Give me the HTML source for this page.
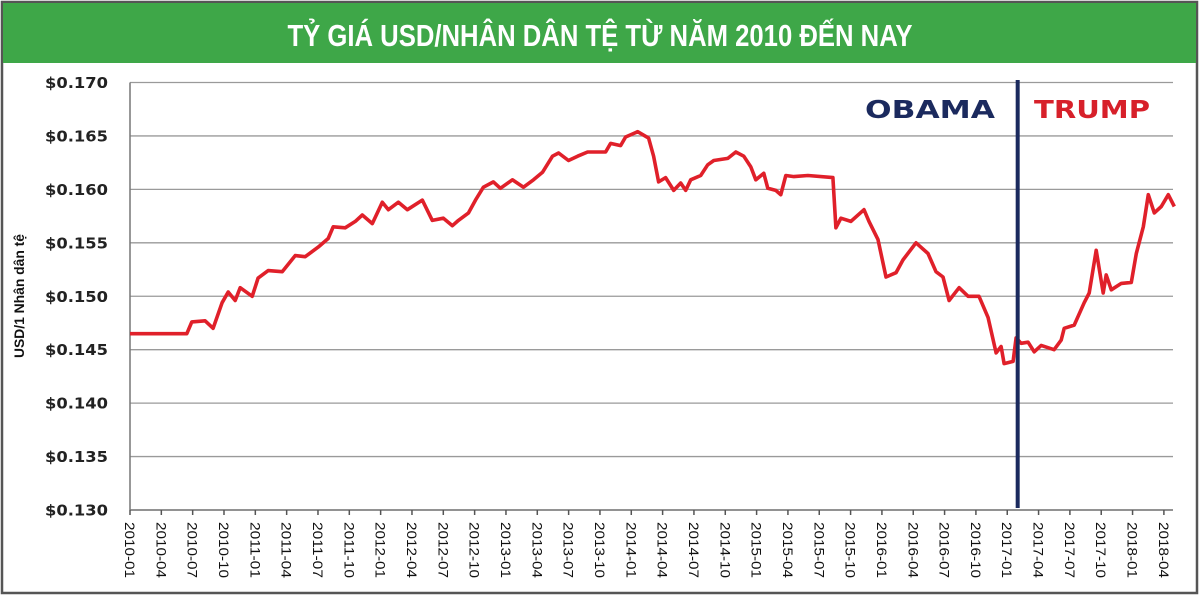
<!DOCTYPE html>
<html><head><meta charset="utf-8"><style>
html,body{margin:0;padding:0;background:#fff;}
svg{display:block;}
</style></head><body>
<svg id="chart" width="1200" height="596" viewBox="0 0 1200 596" xmlns="http://www.w3.org/2000/svg">
<rect x="2" y="2" width="1195" height="591" fill="#fff" stroke="#555" stroke-width="2.5"/>
<rect x="3" y="3" width="1193" height="60" fill="#3ea748"/>
<text x="600" y="46" text-anchor="middle" fill="#fff" font-family="'Liberation Sans Narrow','Liberation Sans',sans-serif" font-weight="bold" font-size="31" textLength="625" lengthAdjust="spacingAndGlyphs">TỶ GIÁ USD/NHÂN DÂN TỆ TỪ NĂM 2010 ĐẾN NAY</text>
<g id="grid"></g>
<g id="yticks"></g>
<g id="xticks"></g>
<text transform="translate(24,296) rotate(-90)" text-anchor="middle" font-family="'Liberation Sans Narrow','Liberation Sans',sans-serif" font-weight="bold" font-size="14" fill="#111" textLength="124" lengthAdjust="spacingAndGlyphs">USD/1 Nhân dân tệ</text>
<g id="series"></g>
<text x="865" y="118" fill="#1b2a5e" font-family="'DejaVu Sans',sans-serif" font-weight="bold" font-size="25" textLength="130" lengthAdjust="spacingAndGlyphs">OBAMA</text>
<text x="1034" y="118" fill="#d7202a" font-family="'DejaVu Sans',sans-serif" font-weight="bold" font-size="25" textLength="116" lengthAdjust="spacingAndGlyphs">TRUMP</text>
</svg>
<script>
const tickLabels = ["2010-01","2010-04","2010-07","2010-10","2011-01","2011-04","2011-07","2011-10","2012-01","2012-04","2012-07","2012-10","2013-01","2013-04","2013-07","2013-10","2014-01","2014-04","2014-07","2014-10","2015-01","2015-04","2015-07","2015-10","2016-01","2016-04","2016-07","2016-10","2017-01","2017-04","2017-07","2017-10","2018-01","2018-04"];
const yTickValues = [0.130,0.135,0.140,0.145,0.150,0.155,0.160,0.165,0.170];
const monthOffsets = [0,5.44,5.92,7.19,7.96,8.82,9.40,10.07,10.55,11.70,12.27,13.23,14.57,15.82,16.78,18.02,18.98,19.46,20.61,21.57,22.24,23.20,24.16,24.74,25.70,26.56,27.99,28.95,30.01,30.87,31.45,32.41,33.08,33.84,34.80,35.47,36.62,37.68,38.64,39.50,40.46,41.04,41.99,42.86,43.82,45.54,46.02,46.98,47.46,48.61,49.66,50.14,50.62,51.29,52.06,52.73,53.21,53.69,54.65,55.32,55.90,57.24,58.01,58.77,59.44,59.92,60.69,61.07,61.84,62.32,62.80,63.57,64.91,67.31,67.59,68.07,69.03,70.28,70.76,71.62,72.39,73.35,74.02,75.26,76.41,77.18,77.85,78.43,79.39,80.25,81.30,82.17,82.93,83.41,83.70,84.56,84.85,85.33,86.00,86.58,87.25,88.49,89.17,89.45,90.41,91.37,91.85,92.52,93.19,93.48,93.96,94.92,95.88,96.36,97.03,97.51,98.08,98.75,99.42,100.0];
const rateValues = [0.1465,0.1465,0.1476,0.1477,0.1470,0.1494,0.1504,0.1496,0.1508,0.1500,0.1517,0.1524,0.1523,0.1538,0.1537,0.1546,0.1554,0.1565,0.1564,0.1570,0.1576,0.1568,0.1588,0.1581,0.1588,0.1581,0.1590,0.1571,0.1573,0.1566,0.1571,0.1578,0.1590,0.1602,0.1607,0.1601,0.1609,0.1602,0.1609,0.1616,0.1631,0.1634,0.1627,0.1631,0.1635,0.1635,0.1643,0.1641,0.1649,0.1654,0.1648,0.1631,0.1607,0.1611,0.1599,0.1606,0.1599,0.1609,0.1613,0.1623,0.1627,0.1629,0.1635,0.1631,0.1621,0.1609,0.1615,0.1601,0.1599,0.1595,0.1613,0.1612,0.1613,0.1611,0.1564,0.1573,0.1570,0.1581,0.1570,0.1553,0.1518,0.1522,0.1534,0.1550,0.1540,0.1523,0.1518,0.1496,0.1508,0.1500,0.1500,0.1480,0.1447,0.1453,0.1437,0.1439,0.1461,0.1456,0.1457,0.1448,0.1454,0.1450,0.1459,0.1470,0.1473,0.1494,0.1503,0.1543,0.1503,0.1520,0.1506,0.1512,0.1513,0.1540,0.1565,0.1595,0.1578,0.1584,0.1595,0.1584];
const dividerMonth = 85.0;

const NS = "http://www.w3.org/2000/svg";
const X0 = 130, PX_PER_MONTH = 31.33/3, Y0 = 510, Y1 = 82.5, VMIN = 0.130, VMAX = 0.170, XR = 1173;
function xScale(m){ return X0 + m*PX_PER_MONTH; }
function yScale(v){ return Y0 - (v-VMIN)/(VMAX-VMIN)*(Y0-Y1); }
function mk(tag, attrs, parent){ const e=document.createElementNS(NS,tag); for(const k in attrs) e.setAttribute(k,attrs[k]); parent.appendChild(e); return e; }

const grid = document.getElementById('grid');
const yt = document.getElementById('yticks');
yTickValues.forEach(v=>{
  const y = yScale(v);
  const gl = mk('line',{x1:X0,x2:XR,y1:y,y2:y,stroke:'#9a9a9a','stroke-width':1.3},grid);
  
  
  const t = mk('text',{x:108,y:y+5.5,'text-anchor':'end','font-family':"'DejaVu Sans',sans-serif",'font-weight':'bold','font-size':15,fill:'#222',textLength:63,lengthAdjust:'spacingAndGlyphs'},yt);
  t.textContent = '$' + v.toFixed(3);
  
  
});
const yAxis = mk('line',{x1:X0,x2:X0,y1:Y1,y2:Y0,stroke:'#777','stroke-width':1.5},yt);



const xt = document.getElementById('xticks');
const xAxis = mk('line',{x1:X0,x2:XR,y1:Y0,y2:Y0,stroke:'#777','stroke-width':1.5},xt);


tickLabels.forEach((lab,i)=>{
  const x = xScale(i*3);
  const tk = mk('line',{x1:x,x2:x,y1:Y0,y2:Y0+5,stroke:'#555','stroke-width':1.5},xt);
  
  
  const t = mk('text',{transform:`translate(${x-5},522) rotate(90)`,'font-family':"'Liberation Sans',sans-serif",'font-size':14,fill:'#111',textLength:56,lengthAdjust:'spacingAndGlyphs'},xt);
  t.textContent = lab;
  
  
});

const s = document.getElementById('series');
const d = monthOffsets.map((m,i)=>(i?'L':'M')+xScale(m).toFixed(1)+','+yScale(rateValues[i]).toFixed(1)).join(' ');
const path = mk('path',{d:d,fill:'none',stroke:'#e0202a','stroke-width':3.6,'stroke-linejoin':'round'},s);


const dx = xScale(dividerMonth);
const div = mk('line',{x1:dx,x2:dx,y1:80,y2:508,stroke:'#1b2a5e','stroke-width':4},s);


</script>
</body></html>
